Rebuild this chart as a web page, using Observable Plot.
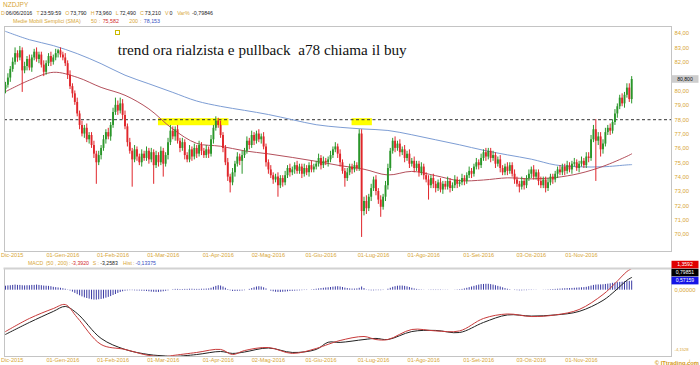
<!DOCTYPE html>
<html><head><meta charset="utf-8">
<script src="https://cdn.jsdelivr.net/npm/d3@7"></script>
<script src="https://cdn.jsdelivr.net/npm/@observablehq/plot@0.6"></script>
<style>
html,body{margin:0;padding:0;background:#fff;}
body{width:700px;height:365px;overflow:hidden;position:relative;font-family:"Liberation Sans",Arial,sans-serif;}
.abs{position:absolute;left:0;}
</style></head><body>
<div id="main" class="abs" style="top:0"></div>
<div id="macd" class="abs" style="top:258px"></div>
<svg id="ov" class="abs" style="top:0;pointer-events:none" width="700" height="365"></svg>
<script>
// ---------- DATA ----------
const symbol = "NZDJPY";
const startDate = "2015-11-30", endDate = "2016-11-30"; // daily candles, weekdays
const firstOpen = 80.1;
const closes = [
80.4,80.9,81.5,82.0,82.6,82.3,82.8,81.4,81.7,82.2,
81.6,82.3,82.7,82.2,82.5,81.8,81.3,81.9,82.4,82.0,
82.3,82.6,82.8,82.5,82.3,81.9,81.1,80.3,79.8,79.2,
78.4,77.6,77.0,77.4,76.6,76.9,76.2,75.6,75.0,75.5,
76.0,76.6,77.1,76.8,77.6,78.5,79.0,78.6,79.1,78.3,
77.5,76.4,75.8,75.2,75.9,75.4,75.0,75.6,75.3,75.8,
75.2,75.7,74.8,75.5,75.0,75.8,74.9,75.5,76.4,77.2,
76.8,77.3,76.5,76.0,76.4,75.5,75.2,75.9,75.4,76.0,
75.6,76.2,75.8,75.5,75.9,75.6,76.6,77.4,77.9,77.6,
76.9,76.0,75.0,74.0,73.6,74.3,74.9,75.4,75.1,75.5,
75.8,76.5,76.2,76.9,76.5,77.0,76.6,76.8,76.1,75.0,
74.5,74.1,73.8,74.0,73.4,73.9,73.6,74.1,74.6,74.3,
74.5,74.8,74.4,74.7,74.2,74.6,74.3,74.8,74.5,74.7,
74.9,75.3,74.8,75.1,75.0,75.2,75.5,75.9,76.1,75.6,
75.0,74.4,73.9,74.3,74.7,74.5,74.8,74.6,77.0,71.6,
72.3,71.8,72.6,73.2,73.8,73.0,72.4,71.9,72.6,73.4,
74.6,75.8,76.5,76.0,76.3,75.7,75.9,75.3,75.6,74.9,
75.1,74.6,74.9,74.3,74.7,74.1,73.8,73.4,73.9,73.5,
73.2,73.6,73.1,73.5,73.3,73.7,73.2,73.4,73.8,73.5,
73.6,73.9,73.7,74.1,74.4,74.2,74.7,75.0,74.8,75.3,
75.7,75.4,75.8,75.3,75.5,74.9,75.2,74.6,74.3,74.7,
74.4,74.8,74.2,73.8,73.5,73.3,73.7,73.4,73.9,74.2,
74.5,74.0,74.3,73.7,73.4,73.8,73.2,73.6,74.0,73.8,
74.2,74.5,74.3,74.7,74.4,74.8,74.5,74.9,75.0,74.6,
74.9,75.1,74.8,75.4,75.3,76.6,77.3,76.5,76.8,75.9,
76.3,77.1,77.4,77.2,77.8,78.4,78.9,79.5,79.1,79.7,
80.2,79.4,80.8];
// upper / lower shadow length above/below the body, in tenths of yen
const wickUp = [
2,3,2,3,4,2,3,2,3,2, 3,2,2,3,2,2,3,2,2,3, 2,3,1,2,2,3,2,3,2,2, 3,2,3,2,3,2,2,3,2,3,
2,3,2,3,2,3,5,3,4,3, 3,2,3,2,3,2,2,3,2,3, 2,3,2,3,2,3,2,2,3,4, 3,2,3,2,3,2,2,3,2,3,
2,3,2,2,3,2,3,2,3,2, 3,2,2,3,2,3,2,3,2,3, 2,3,2,3,2,2,3,2,3,2, 2,3,2,2,3,2,2,3,2,3,
2,2,3,2,2,3,2,2,3,2, 2,3,2,3,2,2,3,2,3,2, 3,2,2,3,2,2,3,2,3,3, 3,4,2,3,2,3,2,3,2,3,
3,2,2,3,2,3,2,3,2,3, 2,3,2,2,3,2,2,3,2,3, 2,2,3,2,2,3,2,2,3,2, 2,3,2,2,3,2,2,3,2,3,
2,3,2,2,3,2,2,3,2,2, 3,2,2,3,2,2,3,2,2,3, 2,3,2,2,3,2,2,3,2,2, 2,2,3,2,2,3,2,2,3,2,
2,3,2,3,3,3,3,7,3,3, 3,3,2,3,2,3,2,2,3,2, 3,3,2];
const wickDn = [
3,2,3,2,2,3,2,15,2,3, 2,3,2,2,3,2,3,2,2,3, 2,2,3,2,2,2,3,2,3,2, 2,3,2,3,2,3,2,3,15,2,
3,2,3,2,3,2,2,3,2,3, 2,3,2,19,2,3,2,3,2,2, 3,2,13,2,3,2,9,2,3,2, 2,3,2,3,2,3,2,2,3,2,
3,2,3,2,2,3,2,3,2,2, 2,3,2,3,7,2,3,2,3,9, 2,2,3,2,3,2,2,3,2,3, 3,2,3,2,8,2,3,2,2,3,
2,3,2,2,3,2,2,3,2,2, 2,2,3,2,2,3,2,2,2,3, 3,2,6,2,2,3,2,2,2,18, 3,4,2,3,2,3,3,7,2,3,
3,2,2,3,2,3,2,3,2,3, 2,3,2,3,2,3,2,10,2,3, 3,2,2,3,2,2,3,2,2,3, 2,2,3,2,2,3,2,2,3,2,
2,3,2,3,2,3,2,3,2,2, 3,2,2,3,2,4,2,3,2,2, 3,2,2,3,2,2,3,2,2,3, 2,3,2,2,3,2,2,3,2,2,
3,2,2,2,3,2,2,28,3,5, 3,2,2,3,2,2,3,2,2,3, 2,2,3];
// moving averages read every 10 sessions
const maIndex = [0,10,20,30,40,50,60,70,80,90,100,110,120,130,140,150,160,170,180,190,200,210,220,230,240,250,260,262];
const sma50  = [79.95,80.75,81.30,80.95,80.25,79.70,78.75,77.35,76.35,76.15,75.83,75.62,75.37,75.10,74.80,74.55,74.15,74.40,74.10,73.75,73.80,73.95,73.88,73.97,74.25,74.75,75.45,75.62];
const sma200 = [84.15,83.57,83.16,82.60,81.90,81.10,80.50,79.90,79.30,78.93,78.65,78.36,78.00,77.65,77.47,77.35,77.25,76.95,76.60,76.25,75.87,75.55,75.25,74.85,74.72,74.72,74.85,74.87];
const dashLevel = 78;
const zoneStart = ["2016-02-26","2016-06-20"], zoneEnd = ["2016-04-07","2016-06-30"];
const zoneLow = 77.58, zoneHigh = 78.07;
const annotation = "trend ora rialzista e pullback  a78 chiama il buy";
const priceTicks = [70,71,72,73,74,75,76,77,78,79,80,82,83,84]; // 81,00 sits under the last-price box
// MACD
const macdIndex = [0,10,20,25,30,40,50,60,67,70,80,90,95,100,110,120,130,135,140,150,155,160,170,180,190,200,210,220,230,240,250,255,260,262];
const macdLine = [-2.59,-1.77,-1.15,-0.90,-1.71,-3.40,-3.71,-4.09,-4.15,-4.09,-3.90,-3.71,-4.03,-3.78,-3.59,-3.96,-3.65,-3.39,-3.15,-2.90,-3.09,-3.09,-2.46,-2.55,-2.55,-1.77,-1.49,-1.65,-1.55,-1.21,-0.27,0.42,1.17,1.3592];
const signalLine = [-2.77,-2.02,-1.33,-1.02,-1.46,-3.02,-3.71,-4.03,-4.12,-4.15,-4.03,-3.84,-3.96,-3.87,-3.62,-3.90,-3.71,-3.26,-3.27,-3.09,-3.02,-3.09,-2.59,-2.52,-2.65,-2.02,-1.55,-1.62,-1.55,-1.33,-0.64,-0.05,0.62,0.79851];
const histogram = [
0.25,0.27,0.28,0.30,0.32,0.30,0.30,0.28,0.27,0.28,
0.28,0.30,0.30,0.32,0.30,0.28,0.26,0.25,0.24,0.22,
0.18,0.16,0.14,0.12,0.09,0.06,0.02,-0.05,-0.12,-0.20,
-0.28,-0.35,-0.42,-0.48,-0.52,-0.56,-0.60,-0.62,-0.62,-0.60,
-0.58,-0.55,-0.50,-0.45,-0.40,-0.33,-0.27,-0.20,-0.14,-0.10,
-0.06,-0.04,-0.03,-0.03,-0.04,-0.05,-0.05,-0.06,-0.07,-0.08,
-0.10,-0.12,-0.13,-0.14,-0.14,-0.12,-0.10,-0.07,-0.04,0.00,
0.03,0.05,0.05,0.04,0.04,0.05,0.05,0.06,0.06,0.05,
0.05,0.05,0.06,0.06,0.07,0.08,0.12,0.18,0.24,0.28,
0.26,0.20,0.12,0.04,-0.04,-0.08,-0.08,-0.07,-0.06,-0.05,
-0.03,0.00,0.05,0.10,0.15,0.20,0.22,0.20,0.15,0.08,
0.00,-0.06,-0.10,-0.13,-0.14,-0.14,-0.13,-0.12,-0.10,-0.08,
-0.07,-0.06,-0.05,-0.04,-0.03,-0.02,-0.02,0.00,0.02,0.04,
0.06,0.08,0.10,0.12,0.14,0.15,0.17,0.19,0.21,0.22,
0.20,0.17,0.13,0.10,0.08,0.07,0.07,0.08,0.12,0.20,
0.10,0.02,-0.03,-0.04,-0.04,-0.03,-0.03,-0.03,-0.02,0.00,
0.06,0.12,0.18,0.22,0.25,0.26,0.26,0.24,0.21,0.17,
0.12,0.08,0.05,0.03,0.02,0.01,0.00,-0.01,-0.02,-0.02,
-0.02,-0.02,-0.02,-0.01,-0.01,-0.01,0.00,0.00,0.01,0.02,
0.03,0.05,0.08,0.12,0.16,0.20,0.24,0.28,0.32,0.35,
0.36,0.37,0.37,0.35,0.32,0.28,0.24,0.20,0.15,0.10,
0.06,0.03,0.00,-0.02,-0.03,-0.04,-0.04,-0.03,-0.03,-0.02,
-0.02,-0.01,-0.01,0.00,0.00,0.01,0.01,0.02,0.03,0.04,
0.05,0.06,0.07,0.08,0.09,0.10,0.10,0.11,0.12,0.13,
0.14,0.15,0.16,0.18,0.22,0.26,0.30,0.32,0.33,0.33,
0.34,0.36,0.38,0.40,0.43,0.45,0.47,0.49,0.50,0.52,
0.54,0.55,0.57159];
const macdMin = -4.1528, macdMax = 1.3592;
const tickDates = ["2015-12-01","2016-01-01","2016-02-01","2016-03-01","2016-04-01","2016-05-02","2016-06-01","2016-07-01","2016-08-01","2016-09-01","2016-10-03","2016-11-01"];
const tickLabels = ["Dic-2015","01-Gen-2016","01-Feb-2016","01-Mar-2016","01-Apr-2016","02-Mag-2016","01-Giu-2016","01-Lug-2016","01-Ago-2016","01-Set-2016","03-Ott-2016","01-Nov-2016"];
// header readouts: [text, colour class, gap after]
const header = [["D","g",0.8],["06/06/2016","k",3.5],["T","g",0.8],["23:59:59","k",3.5],["O","g",0.8],["73,790","k",3.5],
 ["H","g",0.8],["73,960","k",3.5],["L","g",0.8],["72,490","k",3.5],["C","g",0.8],["73,210","k",3.5],
 ["V","g",0.8],["0","k",4],["Var%","g",2],["-0,79846","k",0]];
const smaHeader = [["Medie Mobili Semplici (SMA)","g",11],["50","g",2],[":","g",2.5],["75,582","r",11],["200","g",2],[":","g",2.5],["78,153","b",0]];
const macdHeader = [["MACD","g",5],["(50 , 200)","g",1.5],[":","g",2],["-3,3920","r",7],["S","g",2.5],[":","g",2.5],["-3,2583","k",10],["Hist","g",2],[":","g",2],["-0,13375","b",0]];

// ---------- BUILD ----------
const gold = "#d8a636", green = "#2a962a", red = "#e0262b";
const colors = {g: gold, k: "#222", r: "#d22a2a", b: "#3550c2"};
const font = "Liberation Sans, Arial, sans-serif";
const dates = d3.utcDay.range(new Date(startDate), d3.utcDay.offset(new Date(endDate), 1))
  .filter(d => d.getUTCDay() !== 0 && d.getUTCDay() !== 6);
const idxOf = s => dates.findIndex(d => +d === +new Date(s));
const n = Math.min(dates.length, closes.length);
const candles = [];
for (let i = 0; i < n; i++) {
  const o = i ? closes[i - 1] : firstOpen, c = closes[i];
  candles.push({i, open: o, close: c, high: Math.max(o, c) + wickUp[i] / 10, low: Math.min(o, c) - wickDn[i] / 10});
}
const ups = candles.filter(d => d.close >= d.open), downs = candles.filter(d => d.close < d.open);
const ma50 = maIndex.map((i, k) => ({i, v: sma50[k]}));
const ma200 = maIndex.map((i, k) => ({i, v: sma200[k]}));
const zones = zoneStart.map((s, k) => ({x1: idxOf(s), x2: idxOf(zoneEnd[k]) + 0.5, y1: zoneLow, y2: zoneHigh}));
const tickIdx = tickDates.map(idxOf);
const labelOf = new Map(tickIdx.map((t, k) => [t, tickLabels[k]]));
const xDomain = [-0.42, 278.66];
const comma = (d, p) => d.toFixed(p).replace(".", ",");
const xAxisMarks = () => [
  Plot.axisX(tickIdx.slice(1), {anchor: "bottom", tickSize: 0, tickPadding: 2, tickFormat: d => labelOf.get(d), fontSize: 5.6, color: gold}),
  Plot.text([tickLabels[0]], {text: d => d, frameAnchor: "bottom-left", dx: -3.5, dy: 2, lineAnchor: "top", textAnchor: "start", fontSize: 5.6, fill: gold})
];

const main = Plot.plot({
  width: 700, height: 260, marginTop: 26, marginBottom: 9, marginLeft: 4, marginRight: 29,
  x: {domain: xDomain, axis: null}, y: {domain: [68.82, 84.49], axis: null},
  style: {fontFamily: font, background: "transparent", overflow: "visible"},
  marks: [
    Plot.rect(zones, {x1: "x1", x2: "x2", y1: "y1", y2: "y2", fill: "#ffff00"}),
    Plot.ruleY([dashLevel], {stroke: "#333", strokeDasharray: "3,2.5", strokeWidth: 1}),
    Plot.line(ma200, {x: "i", y: "v", stroke: "#7d9dd4", strokeWidth: 1, curve: "catmull-rom"}),
    Plot.line(ma50, {x: "i", y: "v", stroke: "#b4505c", strokeWidth: 1, curve: "catmull-rom"}),
    Plot.ruleX(ups, {x: "i", y1: "low", y2: "high", stroke: green, strokeWidth: 1}),
    Plot.ruleX(downs, {x: "i", y1: "low", y2: "high", stroke: red, strokeWidth: 1}),
    Plot.ruleX(ups, {x: "i", y1: "open", y2: "close", stroke: green, strokeWidth: 1.9}),
    Plot.ruleX(downs, {x: "i", y1: "open", y2: "close", stroke: red, strokeWidth: 1.9}),
    Plot.frame({stroke: "#c4c4c4"}),
    Plot.axisY(priceTicks, {anchor: "right", tickSize: 0, tickPadding: 3, tickFormat: d => comma(d, 2), fontSize: 5.8, color: gold}),
    ...xAxisMarks(),
    Plot.text([annotation], {text: d => d, frameAnchor: "top-left", dx: 113.3, dy: 17.5, textAnchor: "start", fontSize: 15.2, fontFamily: "Liberation Serif, Times New Roman, serif", fill: "#111"})
  ]
});
document.getElementById("main").append(main);

const macdData = macdIndex.map((i, k) => ({i, v: macdLine[k]}));
const sigData = macdIndex.map((i, k) => ({i, v: signalLine[k]}));
const histData = histogram.slice(0, n).map((v, i) => ({i, v}));
const macdPlot = Plot.plot({
  width: 700, height: 107, marginTop: 10, marginBottom: 9, marginLeft: 4, marginRight: 29,
  x: {domain: xDomain, axis: null}, y: {domain: [macdMin, macdMax], axis: null},
  style: {fontFamily: font, background: "transparent", overflow: "visible"},
  marks: [
    Plot.ruleX(histData, {x: "i", y1: 0, y2: "v", stroke: "#3a3aa4", strokeWidth: 1}),
    Plot.line(sigData, {x: "i", y: "v", stroke: "#222", strokeWidth: 1, curve: "catmull-rom"}),
    Plot.line(macdData, {x: "i", y: "v", stroke: "#c83a3a", strokeWidth: 1, curve: "catmull-rom"}),
    Plot.frame({stroke: "#c4c4c4"}),
    Plot.frame({anchor: "top", stroke: "#d2d2d2", strokeWidth: 2}),
    Plot.axisY([0], {anchor: "right", tickSize: 0, tickPadding: 3, tickFormat: d => comma(d, 5), fontSize: 5.8, color: gold}),
    ...xAxisMarks(),
    Plot.text([macdMin], {text: d => comma(d, 4), frameAnchor: "bottom-right", dx: 3, dy: -6, textAnchor: "start", fontSize: 4.2, fill: gold})
  ]
});
document.getElementById("macd").append(macdPlot);

// ---------- OVERLAY (header readouts, value boxes) ----------
const ov = d3.select("#ov");
// lays a readout line out piece by piece; gaps stretch or shrink toward the target width
function readout(items, x0, y, target, fs) {
  const g = ov.append("g");
  const els = items.map(([t, c]) => g.append("text").attr("y", y).attr("font-size", fs).attr("font-family", font).attr("fill", colors[c]).text(t));
  const widths = els.map(e => e.node().getComputedTextLength());
  const textW = d3.sum(widths), gapW = d3.sum(items, d => d[2]);
  const k = Math.max(0.35, Math.min(1.6, (target - textW) / gapW));
  let x = x0;
  els.forEach((e, j) => { e.attr("x", x); x += widths[j] + items[j][2] * k; });
}
ov.append("text").attr("x", 3).attr("y", 7).attr("font-size", 6.5).attr("font-family", font).attr("fill", gold).text(symbol);
readout(header, 1, 15, 212, 5.3);
readout(smaHeader, 13, 22.5, 147, 5.3);
readout(macdHeader, 28, 265, 128, 5.2);
// annotation anchor square
ov.append("rect").attr("x", 115.5).attr("y", 30.5).attr("width", 4).attr("height", 4).attr("fill", "none").attr("stroke", "#c9b800");
// last price box
const last = candles[candles.length - 1].close;
const yLast = main.scale("y").apply(last);
function box(y, bg, fg, t) {
  ov.append("rect").attr("x", 671.5).attr("y", y - 3.8).attr("width", 27).attr("height", 7.6).attr("fill", bg);
  ov.append("text").attr("x", 685).attr("y", y + 1.8).attr("text-anchor", "middle").attr("font-size", 5.1).attr("font-family", font).attr("fill", fg).text(t);
}
box(yLast, "#cdcdcd", "#111", comma(last, 3));
// MACD value boxes, stacked so they do not overlap
const ym = v => 258 + macdPlot.scale("y").apply(v);
const lastHist = histogram[n - 1], lastSig = signalLine[signalLine.length - 1], lastMacd = macdLine[macdLine.length - 1];
const yBlue = ym(lastHist); const yBlack = Math.min(ym(lastSig), yBlue - 8); const yRed = Math.min(ym(lastMacd), yBlack - 8);
box(yRed, "#e00000", "#fff", comma(lastMacd, 4));
box(yBlack, "#000", "#fff", comma(lastSig, 5));
box(yBlue, "#1414e6", "#fff", comma(lastHist, 5));
ov.append("text").attr("x", 699).attr("y", 364.6).attr("text-anchor", "end").attr("font-size", 5.8).attr("font-weight", "bold")
  .attr("font-family", font).attr("fill", "#d49a20").text("© ITtrading.com");
</script>
</body></html>
